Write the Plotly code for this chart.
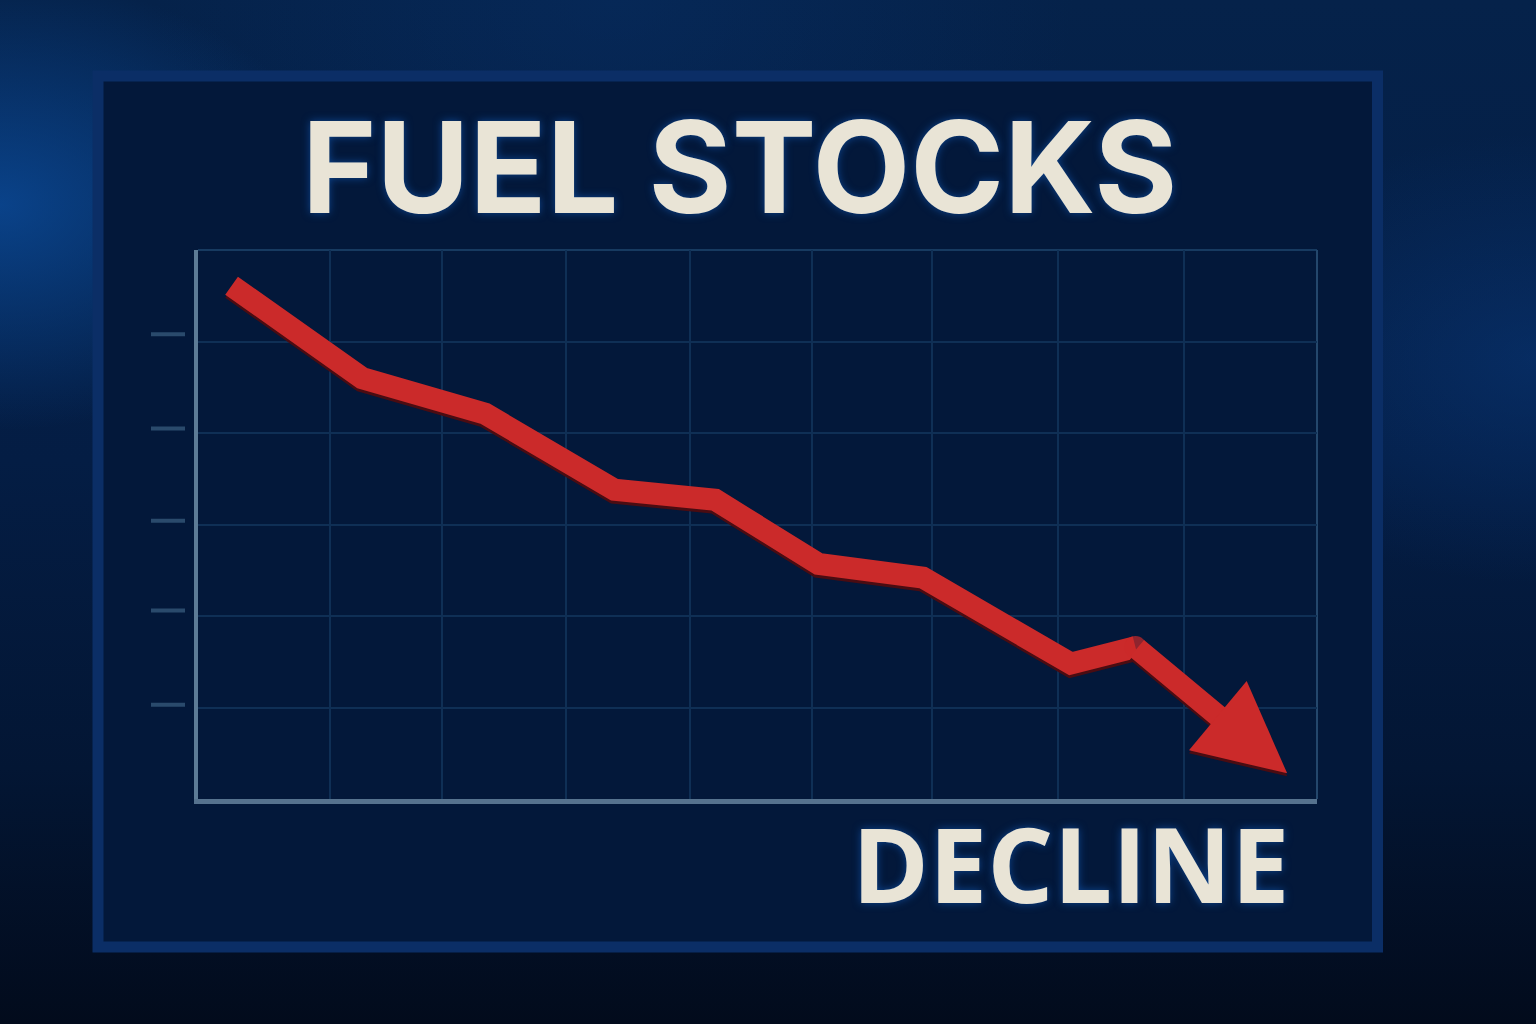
import base64
import plotly.graph_objects as go

# ---- data ----
x_vals = [0.27, 1.32, 2.31, 3.35, 4.16, 4.99, 5.83, 7.02, 7.54]
y_vals = [5.61, 4.60, 4.21, 3.38, 3.27, 2.57, 2.42, 1.48, 1.66]
arrow_tip = (8.76, 0.28)
x_grid = [1.06, 1.96, 2.96, 3.96, 4.94, 5.90, 6.92, 7.93]
y_grid = [1, 2, 3, 4, 5]
y_tick_marks = [1.03, 2.06, 3.04, 4.05, 5.08]
title_text = "FUEL STOCKS"
label_text = "DECLINE"

W, H = 1536, 1024
ML, MR, MT, MB = 198, 219, 250, 225
PW, PH = W - ML - MR, H - MT - MB


def px_x(p):
    return (p - ML) / PW


def px_y(p):
    return (H - MB - p) / PH


RED = "#cb2a2a"
SHADOW = "#4a0c12"
CREAM = "#e9e4d6"
GRID = "#0f2f55"

svg = f'''<svg xmlns="http://www.w3.org/2000/svg" width="{W}" height="{H}" viewBox="0 0 {W} {H}">
<defs>
<linearGradient id="g" x1="0" y1="0" x2="0" y2="1">
<stop offset="0" stop-color="#05224a"/><stop offset="0.45" stop-color="#041d44"/><stop offset="0.75" stop-color="#031634"/><stop offset="1" stop-color="#020b1c"/></linearGradient>
<radialGradient id="r1" cx="0.0" cy="0.2" r="0.22"><stop offset="0" stop-color="#0b4b9a" stop-opacity="0.8"/><stop offset="1" stop-color="#0b4b9a" stop-opacity="0"/></radialGradient>
<radialGradient id="r2" cx="1" cy="0.35" r="0.22"><stop offset="0" stop-color="#0a3d85" stop-opacity="0.45"/><stop offset="1" stop-color="#0a3d85" stop-opacity="0"/></radialGradient>
<radialGradient id="r3" cx="0.4" cy="0" r="0.3"><stop offset="0" stop-color="#08336f" stop-opacity="0.35"/><stop offset="1" stop-color="#08336f" stop-opacity="0"/></radialGradient>
</defs>
<rect width="{W}" height="{H}" fill="url(#g)"/>
<rect width="{W}" height="{H}" fill="url(#r1)"/>
<rect width="{W}" height="{H}" fill="url(#r2)"/>
<rect width="{W}" height="{H}" fill="url(#r3)"/>
</svg>'''
bg_src = "data:image/svg+xml;base64," + base64.b64encode(svg.encode()).decode()

fig = go.Figure()

# subtle drop shadow under the red line (3 px lower)
shadow_dy = 3 / PH * 6
fig.add_trace(go.Scatter(
    x=x_vals, y=[v - shadow_dy for v in y_vals], mode="lines",
    line=dict(color=SHADOW, width=22),
    hoverinfo="skip", showlegend=False,
))

marker_sizes = [0] * (len(x_vals) - 1) + [22]
fig.add_trace(go.Scatter(
    x=x_vals, y=y_vals, mode="lines+markers",
    line=dict(color=RED, width=22),
    marker=dict(size=marker_sizes, color=RED, line=dict(width=0)),
    hoverinfo="skip", showlegend=False,
))

shapes = []
# panel
shapes.append(dict(type="rect", xref="paper", yref="paper", layer="below",
                   x0=px_x(98), x1=px_x(1377.5), y0=px_y(947), y1=px_y(76),
                   fillcolor="#03183a", line=dict(color="#0b2e66", width=11)))
# top and right plot-frame lines
shapes.append(dict(type="line", xref="paper", yref="paper", layer="below",
                   x0=0, x1=1, y0=1, y1=1, line=dict(color="#173a60", width=2)))
shapes.append(dict(type="line", xref="paper", yref="paper", layer="below",
                   x0=1, x1=1, y0=0, y1=1, line=dict(color="#24476c", width=2)))
# left tick dashes
for v in y_tick_marks:
    shapes.append(dict(type="line", xref="paper", yref="y", layer="below",
                       x0=px_x(151), x1=px_x(185), y0=v, y1=v,
                       line=dict(color="#2a4a6c", width=4)))

annotations = [
    dict(text=title_text, xref="paper", yref="paper",
         x=px_x(739), y=px_y(167), xanchor="center", yanchor="middle",
         showarrow=False,
         font=dict(family="Inter", size=127, color=CREAM, weight=700,
                   shadow="0px 0px 8px #0d4590")),
    dict(text=label_text, xref="paper", yref="paper",
         x=px_x(1070), y=px_y(862), xanchor="center", yanchor="middle",
         showarrow=False,
         font=dict(family="Open Sans", size=104, color=CREAM, weight=700,
                   shadow="0px 0px 8px #0d4590")),
    dict(text="", x=arrow_tip[0], y=arrow_tip[1] - shadow_dy, xref="x", yref="y",
         ax=x_vals[-1], ay=y_vals[-1] - shadow_dy, axref="x", ayref="y",
         showarrow=True, arrowhead=2, arrowsize=0.82, arrowwidth=22,
         arrowcolor=SHADOW, standoff=0),
    dict(text="", x=arrow_tip[0], y=arrow_tip[1], xref="x", yref="y",
         ax=x_vals[-1], ay=y_vals[-1], axref="x", ayref="y",
         showarrow=True, arrowhead=2, arrowsize=0.82, arrowwidth=22,
         arrowcolor=RED, standoff=0),
]

fig.update_layout(
    width=W, height=H,
    margin=dict(l=ML, r=MR, t=MT, b=MB, pad=0),
    paper_bgcolor="#04204a",
    plot_bgcolor="#021633",
    showlegend=False,
    shapes=shapes,
    annotations=annotations,
    images=[dict(source=bg_src, xref="paper", yref="paper",
                 x=-ML / PW, y=1 + MT / PH, sizex=W / PW, sizey=H / PH,
                 xanchor="left", yanchor="top", sizing="stretch", layer="below")],
    xaxis=dict(range=[0, 9], tickvals=x_grid, showticklabels=False, ticks="",
               showgrid=True, gridcolor=GRID, gridwidth=2, zeroline=False,
               showline=True, linecolor="#56728e", linewidth=5, fixedrange=True),
    yaxis=dict(range=[0, 6], tickvals=y_grid, showticklabels=False, ticks="",
               showgrid=True, gridcolor=GRID, gridwidth=2, zeroline=False,
               showline=True, linecolor="#5d7b96", linewidth=4, fixedrange=True),
)

fig.write_html("out.html", config={"displayModeBar": False},
               post_script="document.body.style.margin='0';document.body.style.overflow='hidden';")
